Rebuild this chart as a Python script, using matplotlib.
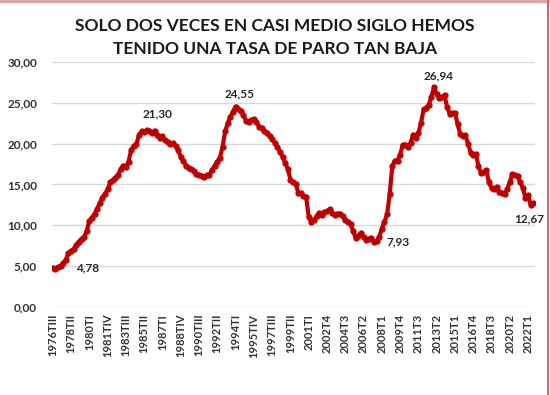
import matplotlib.pyplot as plt
from matplotlib.ticker import FuncFormatter, MultipleLocator
from matplotlib.lines import Line2D

# tasa de paro trimestral (EPA), 1976TIII - 2022TIII
tasa_paro = [
    4.78, 4.62,                   # 1976 (TIII, TIV)
    4.85, 5.05, 5.35, 5.80,       # 1977
    6.55, 6.85, 7.10, 7.60,       # 1978
    8.00, 8.35, 8.55, 9.30,       # 1979
    10.55, 10.95, 11.40, 12.05,   # 1980
    12.70, 13.40, 13.85, 14.40,   # 1981
    15.25, 15.50, 15.85, 16.20,   # 1982
    16.85, 17.30, 17.15, 17.80,   # 1983
    19.20, 19.75, 19.90, 21.05,   # 1984
    21.50, 21.40, 21.65, 21.50,   # 1985
    21.30, 21.60, 21.00, 20.70,   # 1986
    20.90, 20.40, 20.20, 20.00,   # 1987
    20.10, 19.70, 19.20, 18.40,   # 1988
    17.90, 17.30, 17.00, 16.90,   # 1989
    16.70, 16.30, 16.20, 16.00,   # 1990
    15.90, 16.10, 16.20, 16.80,   # 1991
    17.30, 17.80, 18.30, 19.60,   # 1992
    21.50, 22.50, 23.30, 23.90,   # 1993
    24.55, 24.20, 24.00, 23.50,   # 1994
    22.80, 22.70, 22.90, 23.00,   # 1995
    22.60, 22.10, 21.90, 21.60,   # 1996
    21.30, 20.90, 20.60, 20.10,   # 1997
    19.60, 19.00, 18.40, 17.60,   # 1998
    16.90, 15.60, 15.30, 15.10,   # 1999
    14.00, 13.90, 13.60, 13.50,   # 2000
    11.00, 10.45, 10.60, 11.10,   # 2001
    11.50, 11.30, 11.60, 11.70,   # 2002
    12.00, 11.50, 11.30, 11.40,   # 2003
    11.44, 11.10, 10.60, 10.40,   # 2004
    10.19, 9.33, 8.42, 8.70,      # 2005
    9.07, 8.53, 8.15, 8.35,       # 2006
    8.47, 7.93, 8.03, 8.60,       # 2007
    9.60, 10.44, 11.33, 13.79,    # 2008
    17.24, 17.92, 17.93, 18.66,   # 2009
    19.84, 19.89, 19.59, 20.11,   # 2010
    21.08, 20.64, 21.28, 22.56,   # 2011
    24.19, 24.40, 24.79, 25.77,   # 2012
    26.94, 26.06, 25.65, 25.73,   # 2013
    25.93, 24.47, 23.67, 23.70,   # 2014
    23.78, 22.37, 21.18, 20.90,   # 2015
    21.00, 20.00, 18.91, 18.63,   # 2016
    18.75, 17.22, 16.38, 16.55,   # 2017
    16.74, 15.28, 14.55, 14.45,   # 2018
    14.70, 14.02, 13.92, 13.78,   # 2019
    14.41, 15.33, 16.26, 16.13,   # 2020
    15.98, 15.26, 14.57, 13.33,   # 2021
    13.65, 12.48, 12.67,          # 2022
]

# etiquetas del eje x (una cada 7 trimestres)
etiquetas_x = ["1976TIII", "1978TII", "1980TI", "1981TIV", "1983TIII", "1985TII",
               "1987TI", "1988TIV", "1990TIII", "1992TII", "1994TI", "1995TIV",
               "1997TIII", "1999TII", "2001TI", "2002T4", "2004T3", "2006T2",
               "2008T1", "2009T4", "2011T3", "2013T2", "2015T1", "2016T4",
               "2018T3", "2020T2", "2022T1"]

# puntos con etiqueta de datos
puntos_etiqueta = [0, 38, 70, 123, 146, 184]

titulo = "SOLO DOS VECES EN CASI MEDIO SIGLO HEMOS\nTENIDO UNA TASA DE PARO TAN BAJA"

rojo = "#C00000"

fig = plt.figure(figsize=(5.5, 3.95), dpi=100)
ax = fig.add_axes([0.095, 0.223, 0.878, 0.620])

x = list(range(len(tasa_paro)))
ax.plot(x, tasa_paro, color=rojo, linewidth=3, marker="o", markersize=4.5,
        markeredgewidth=0, zorder=3)

ax.set_ylim(0, 30)
ax.set_xlim(-0.2, len(tasa_paro) - 0.3)
ax.yaxis.set_major_locator(MultipleLocator(5))
ax.yaxis.set_major_formatter(FuncFormatter(lambda v, p: f"{v:.2f}".replace(".", ",")))
ax.grid(axis="y", color="#d9d9d9", linewidth=1)
ax.set_axisbelow(True)
for s in ax.spines.values():
    s.set_visible(False)

ax.set_xticks(range(0, 7 * len(etiquetas_x), 7))
ax.set_xticklabels(etiquetas_x, rotation=90, fontsize=8, fontweight="bold",
                   color="#333333", family="Lato")
ax.tick_params(axis="x", length=0, pad=5)
ax.tick_params(axis="y", length=0, pad=11, labelsize=8.5, labelcolor="#333333")
for t in ax.get_yticklabels():
    t.set_fontweight("bold")
    t.set_family("Lato")

# etiquetas de datos
offsets = {0: (17, 0, "left", "center"), 38: (4, 10, "center", "bottom"),
           70: (3, 5, "center", "bottom"), 123: (9, 0, "left", "center"),
           146: (3, 4, "center", "bottom"), 184: (-3, -7, "center", "top")}
for i in puntos_etiqueta:
    dx, dy, ha, va = offsets[i]
    ax.annotate(f"{tasa_paro[i]:.2f}".replace(".", ","), (i, tasa_paro[i]),
                xytext=(dx, dy), textcoords="offset points", ha=ha, va=va,
                fontsize=8.5, fontweight="bold", color="#262626", family="Lato")

fig.text(0.5, 0.905, titulo, ha="center", va="center", fontsize=12.5,
         fontweight="bold", color="#1a1a1a", family="Lato", linespacing=1.5)

# marco del gráfico
fig.add_artist(Line2D([0, 1], [0.997, 0.997], color="#d8a8a8", linewidth=2.5,
                      transform=fig.transFigure))
fig.add_artist(Line2D([0.997, 0.997], [0, 1], color="#c86a6a", linewidth=1.5,
                      transform=fig.transFigure))

fig.savefig("out.png", dpi=100)
